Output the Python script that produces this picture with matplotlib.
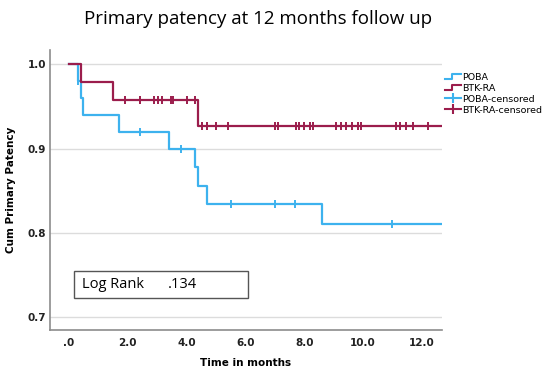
import numpy as np
import matplotlib
matplotlib.use("Agg")
import matplotlib.pyplot as plt
from matplotlib.legend_handler import HandlerBase
from matplotlib.lines import Line2D
from matplotlib.ticker import FuncFormatter
from matplotlib.patches import Rectangle

# --- Kaplan-Meier steps ---
poba_t = [0.0, 0.30, 0.40, 0.49, 1.71, 3.40, 4.30, 4.38, 4.69, 8.59, 12.69]
poba_s = [1.0, 0.980, 0.960, 0.940, 0.919, 0.899, 0.878, 0.856, 0.834, 0.811, 0.811]

btk_t = [0.0, 0.41, 1.51, 4.40, 12.69]
btk_s = [1.0, 0.979, 0.958, 0.927, 0.927]

# --- censored observations ---
poba_cens_t = [0.30, 2.41, 3.80, 5.51, 7.01, 7.70, 11.0]
poba_cens_s = [0.980, 0.919, 0.899, 0.834, 0.834, 0.834, 0.811]

btk_cens_t = [1.90, 2.41, 2.90, 3.04, 3.17, 3.47, 3.55, 4.00, 4.30,
              4.51, 4.68, 4.99, 5.40, 7.01, 7.12, 7.71, 7.82, 8.00, 8.20, 8.31,
              9.10, 9.24, 9.42, 9.62, 9.84, 9.92, 11.12, 11.26, 11.46, 11.69, 12.22]
btk_cens_s = [0.958] * 9 + [0.927] * 22

xticks = [0, 2, 4, 6, 8, 10, 12]
yticks = [0.7, 0.8, 0.9, 1.0]

blue = "#3DB2EE"
red = "#9B1D4C"


class StepHandler(HandlerBase):
    # legend handle drawn as a small step, like SPSS
    def create_artists(self, legend, orig_handle, xdescent, ydescent,
                       width, height, fontsize, trans):
        x = [-xdescent, -xdescent + width * 0.45, -xdescent + width * 0.45, -xdescent + width]
        y = [height * 0.15, height * 0.15, height * 0.85, height * 0.85]
        ln = Line2D(x, y, color=orig_handle.get_color(), lw=1.5, transform=trans)
        return [ln]


class CensHandler(HandlerBase):
    def create_artists(self, legend, orig_handle, xdescent, ydescent,
                       width, height, fontsize, trans):
        ln = Line2D([-xdescent, -xdescent + width], [height / 2, height / 2],
                    color=orig_handle.get_color(), lw=1.5, transform=trans)
        tk = Line2D([-xdescent + width / 2], [height / 2], marker="|", markersize=7,
                    markeredgewidth=1.5, color=orig_handle.get_color(), transform=trans)
        return [ln, tk]


fig = plt.figure(figsize=(5.5, 3.74), dpi=100)
ax = fig.add_axes([0.0909, 0.1176, 0.7127, 0.7487])

for y in yticks:
    ax.axhline(y, color="#DCDCDC", lw=1.0, zorder=0)

h1, = ax.plot(poba_t, poba_s, drawstyle="steps-post", color=blue, lw=1.6, zorder=3)
h2, = ax.plot(btk_t, btk_s, drawstyle="steps-post", color=red, lw=1.6, zorder=3)
ax.plot(poba_cens_t, poba_cens_s, linestyle="None", marker="|", markersize=6,
        markeredgewidth=1.4, color=blue, zorder=4)
ax.plot(btk_cens_t, btk_cens_s, linestyle="None", marker="|", markersize=6,
        markeredgewidth=1.4, color=red, zorder=4)

ax.set_xlim(-0.65, 12.69)
ax.set_ylim(0.685, 1.0167)
ax.set_xticks(xticks)
ax.set_yticks(yticks)
ax.xaxis.set_major_formatter(FuncFormatter(lambda v, p: ".0" if v == 0 else f"{v:.1f}"))
ax.yaxis.set_major_formatter(FuncFormatter(lambda v, p: f"{v:.1f}"))
ax.tick_params(axis="x", length=0, labelsize=7.5, pad=6, colors="#222222")
ax.tick_params(axis="y", length=0, labelsize=7.5, pad=3, colors="#222222")
for lab in ax.get_xticklabels() + ax.get_yticklabels():
    lab.set_fontweight("bold")

for s in ["top", "right"]:
    ax.spines[s].set_visible(False)
for s in ["left", "bottom"]:
    ax.spines[s].set_color("#8C8C8C")
    ax.spines[s].set_linewidth(1.2)

ax.set_xlabel("Time in months", fontsize=7.5, fontweight="bold", labelpad=7)
ax.set_ylabel("Cum Primary Patency", fontsize=7.5, fontweight="bold", labelpad=8)

# Log Rank box
ax.add_patch(Rectangle((0.17, 0.7226), 5.92, 0.0324, fill=False,
                       edgecolor="#555555", lw=1.0, zorder=5))
ax.text(0.45, 0.7388, "Log Rank", fontsize=10.5, family="Open Sans", va="center")
ax.text(3.35, 0.7388, ".134", fontsize=10.5, family="Open Sans", va="center")

c1 = Line2D([], [], color=blue)
c2 = Line2D([], [], color=red)
leg = fig.legend([h1, h2, c1, c2], ["POBA", "BTK-RA", "POBA-censored", "BTK-RA-censored"],
                 handler_map={h1: StepHandler(), h2: StepHandler(),
                              c1: CensHandler(), c2: CensHandler()},
                 loc="upper left", bbox_to_anchor=(0.803, 0.815), frameon=False,
                 fontsize=6.8, handlelength=1.6, handletextpad=0.2,
                 labelspacing=0.2, borderaxespad=0)

fig.text(0.469, 1 - 19 / 374, "Primary patency at 12 months follow up",
         ha="center", va="center", fontsize=13.5, family="Open Sans")

fig.savefig("out.png", dpi=100)
